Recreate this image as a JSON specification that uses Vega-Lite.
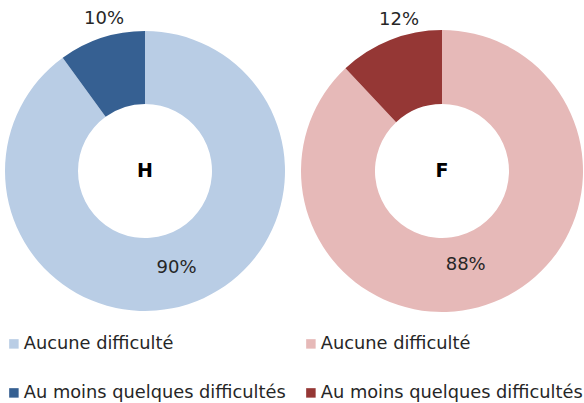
{
  "$schema": "https://vega.github.io/schema/vega-lite/v6.json",
  "padding": 0,
  "background": "white",
  "config": {"view": {"stroke": null}, "font": "DejaVu Sans", "concat": {"spacing": 7}},
  "data": {"values": [
    {"panel": "H", "categorie": "Aucune difficulté", "ordre": 1, "valeur": 90, "label": "90%"},
    {"panel": "H", "categorie": "Au moins quelques difficultés", "ordre": 2, "valeur": 10, "label": "10%"},
    {"panel": "F", "categorie": "Aucune difficulté", "ordre": 1, "valeur": 88, "label": "88%"},
    {"panel": "F", "categorie": "Au moins quelques difficultés", "ordre": 2, "valeur": 12, "label": "12%"}
  ]},
  "resolve": {"scale": {"color": "independent"}, "legend": {"color": "independent"}},
  "hconcat": [
    {
      "width": 290, "height": 342,
      "transform": [{"filter": "datum.panel === 'H'"}],
      "layer": [
        {
          "mark": {"type": "arc", "outerRadius": 140, "innerRadius": 67},
          "encoding": {
            "theta": {"field": "valeur", "type": "quantitative", "stack": true},
            "order": {"field": "ordre"},
            "color": {
              "field": "categorie", "type": "nominal",
              "scale": {"domain": ["Aucune difficulté", "Au moins quelques difficultés"], "range": ["#b9cde5", "#366092"]},
              "legend": {"title": null, "orient": "none", "legendX": 5, "legendY": 335, "direction": "vertical", "symbolType": "square", "symbolSize": 90, "symbolStrokeWidth": 0, "labelFontSize": 17.8, "labelFont": "DejaVu Sans", "labelColor": "#262626", "rowPadding": 30, "labelOffset": 1, "labelLimit": 400}
            }
          }
        },
        {
          "mark": {"type": "text", "fontSize": 18, "color": "#262626", "radius": 102},
          "encoding": {
            "theta": {"field": "valeur", "type": "quantitative", "stack": true},
            "order": {"field": "ordre"},
            "text": {"condition": {"test": "datum.categorie === 'Aucune difficulté'", "field": "label"}, "value": ""}
          }
        },
        {
          "mark": {"type": "text", "fontSize": 18, "color": "#262626", "radius": 157, "thetaOffset": 0.05},
          "encoding": {
            "theta": {"field": "valeur", "type": "quantitative", "stack": true},
            "order": {"field": "ordre"},
            "text": {"condition": {"test": "datum.categorie !== 'Aucune difficulté'", "field": "label"}, "value": ""}
          }
        },
        {
          "transform": [{"filter": "datum.ordre === 1"}],
          "mark": {"type": "text", "fontSize": 19, "fontWeight": "bold", "color": "black"},
          "encoding": {"text": {"field": "panel"}}
        }
      ]
    },
    {
      "width": 290, "height": 342,
      "transform": [{"filter": "datum.panel === 'F'"}],
      "layer": [
        {
          "mark": {"type": "arc", "outerRadius": 141, "innerRadius": 67},
          "encoding": {
            "theta": {"field": "valeur", "type": "quantitative", "stack": true},
            "order": {"field": "ordre"},
            "color": {
              "field": "categorie", "type": "nominal",
              "scale": {"domain": ["Aucune difficulté", "Au moins quelques difficultés"], "range": ["#e6b9b8", "#953735"]},
              "legend": {"title": null, "orient": "none", "legendX": 5, "legendY": 335, "direction": "vertical", "symbolType": "square", "symbolSize": 90, "symbolStrokeWidth": 0, "labelFontSize": 17.8, "labelFont": "DejaVu Sans", "labelColor": "#262626", "rowPadding": 30, "labelOffset": 1, "labelLimit": 400}
            }
          }
        },
        {
          "mark": {"type": "text", "fontSize": 18, "color": "#262626", "radius": 97, "thetaOffset": 0.13},
          "encoding": {
            "theta": {"field": "valeur", "type": "quantitative", "stack": true},
            "order": {"field": "ordre"},
            "text": {"condition": {"test": "datum.categorie === 'Aucune difficulté'", "field": "label"}, "value": ""}
          }
        },
        {
          "mark": {"type": "text", "fontSize": 18, "color": "#262626", "radius": 157, "thetaOffset": 0.1},
          "encoding": {
            "theta": {"field": "valeur", "type": "quantitative", "stack": true},
            "order": {"field": "ordre"},
            "text": {"condition": {"test": "datum.categorie !== 'Aucune difficulté'", "field": "label"}, "value": ""}
          }
        },
        {
          "transform": [{"filter": "datum.ordre === 1"}],
          "mark": {"type": "text", "fontSize": 19, "fontWeight": "bold", "color": "black"},
          "encoding": {"text": {"field": "panel"}}
        }
      ]
    }
  ]
}
